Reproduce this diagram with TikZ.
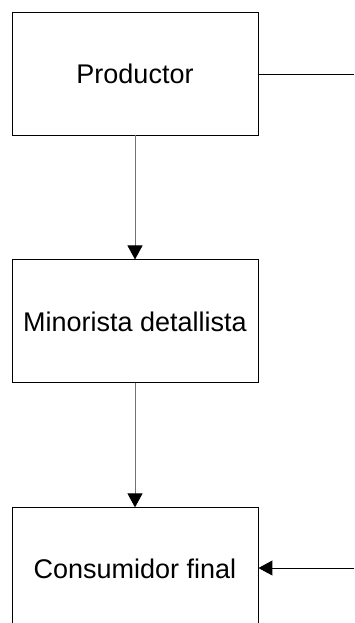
\documentclass[tikz,border=0pt]{standalone}
\usepackage{fontspec}
\setmainfont{Liberation Sans}
\usepackage{tikz}
\usetikzlibrary{
  positioning,
  arrows.meta
}

\begin{document}
\begin{tikzpicture}[x=1pt, y=-1pt,
    stagebox/.style={draw=black, line width=0.9pt, fill=white, minimum width=246pt,
      minimum height=123pt, inner sep=0pt, font=\fontsize{27}{32}\selectfont},
    flow/.style={line width=1pt, -{Triangle[length=14pt, width=15pt, color=black]}},
    node distance=124pt]
      \useasboundingbox (0,0) rectangle (354,623);
      \clip (0,0) rectangle (354,623);

      % Boxes
      \node[stagebox] (productor) at (135,73.5) {Productor};
      \node[stagebox, below=of productor] (minorista) {Minorista detallista};
      \node[stagebox, below=of minorista] (consumidor) {Consumidor final};

      % Free ends on the right edge
      \coordinate (outP) at (354,74);
      \coordinate (inC) at (354,568);

      % Connectors
      \draw[flow, draw=gray!90!black] (productor) -- (minorista);
      \draw[flow, draw=gray!90!black] (minorista) -- (consumidor);
      \draw[line width=0.9pt] (productor.east |- outP) -- (outP);
      \draw[flow] (inC) -- (consumidor.east |- inC);
    \end{tikzpicture}
\end{document}
